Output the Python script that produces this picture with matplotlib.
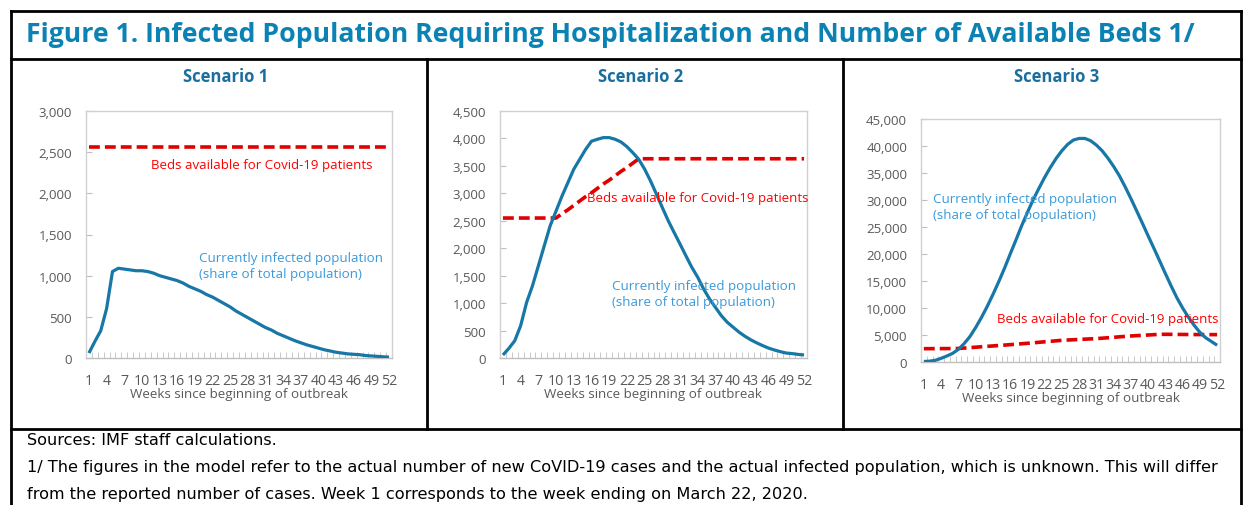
import matplotlib
matplotlib.use("Agg")
import matplotlib.pyplot as plt
from matplotlib.lines import Line2D

W, H = 1244, 506

weeks = list(range(1, 53))
tick_weeks = list(range(1, 53, 3))

# Scenario 1
s1_infected = [60, 200, 330, 600, 1050, 1090, 1080, 1070, 1060, 1060, 1050, 1030, 1000,
               980, 960, 940, 910, 870, 840, 810, 770, 740, 700, 660, 620, 570, 530, 490,
               450, 410, 370, 340, 300, 270, 240, 210, 185, 160, 140, 120, 100, 85, 70,
               60, 50, 45, 40, 30, 25, 20, 15, 10]
s1_beds = [2560] * 52

# Scenario 2
s2_infected = [55, 175, 315, 590, 1010, 1315, 1680, 2045, 2410, 2680, 2950, 3195, 3440,
               3620, 3800, 3950, 3985, 4015, 4015, 3985, 3935, 3850, 3740, 3620, 3440,
               3225, 2985, 2740, 2500, 2285, 2075, 1860, 1650, 1470, 1255, 1075, 920,
               770, 650, 560, 470, 395, 330, 275, 225, 180, 145, 115, 90, 80, 65, 55]
s2_beds = [2550, 2550, 2550, 2550, 2550, 2550, 2550, 2550, 2550, 2550, 2630, 2700, 2780,
           2860, 2940, 3010, 3090, 3170, 3240, 3320, 3400, 3470, 3550, 3630, 3630, 3630,
           3630, 3630, 3630, 3630, 3630, 3630, 3630, 3630, 3630, 3630, 3630, 3630, 3630,
           3630, 3630, 3630, 3630, 3630, 3630, 3630, 3630, 3630, 3630, 3630, 3630, 3630]

# Scenario 3
s3_infected = [100, 150, 320, 680, 1110, 1600, 2350, 3400, 4700, 6370, 8220, 10260, 12480,
               14830, 17300, 19960, 22560, 25220, 27690, 30040, 32140, 34180, 36030,
               37700, 39120, 40300, 41100, 41400, 41400, 40980, 40170, 39120, 37760,
               36220, 34490, 32450, 30280, 28000, 25710, 23360, 21070, 18730, 16380,
               14090, 11900, 10000, 8300, 6800, 5500, 4500, 3800, 3100]
s3_beds = [2470, 2470, 2480, 2480, 2490, 2490, 2500, 2580, 2660, 2740, 2820, 2900, 2970,
           3050, 3130, 3210, 3290, 3380, 3460, 3550, 3650, 3740, 3830, 3920, 4020, 4070,
           4120, 4180, 4230, 4280, 4330, 4410, 4490, 4570, 4660, 4740, 4820, 4880, 4940,
           5000, 5060, 5120, 5130, 5120, 5110, 5100, 5090, 5080, 5080, 5070, 5070, 5070]

titles = ["Scenario 1", "Scenario 2", "Scenario 3"]
y_max = [3000, 4500, 45000]
y_step = [500, 500, 5000]

fig = plt.figure(figsize=(W / 100, H / 100), dpi=100)
plt.rcParams["font.family"] = ["Open Sans", "DejaVu Sans"]

def fx(x):
    return x / W

def fy(y):
    return 1 - y / H

# frame lines
def hline(y, x0, x1, lw=2):
    fig.add_artist(Line2D([fx(x0), fx(x1)], [fy(y), fy(y)], color="black", lw=lw,
                          transform=fig.transFigure))

def vline(x, y0, y1, lw=2):
    fig.add_artist(Line2D([fx(x), fx(x)], [fy(y0), fy(y1)], color="black", lw=lw,
                          transform=fig.transFigure))

hline(12, 11, 1241)
hline(60, 11, 1241)
hline(430, 11, 1241)
vline(11, 12, 506)
vline(1241, 12, 506)
vline(427, 60, 430)
vline(843, 60, 430)

fig.text(fx(26), fy(35), "Figure 1. Infected Population Requiring Hospitalization and Number of Available Beds 1/",
         color="#0a82b4", fontsize=19.2, fontweight="bold", va="center", ha="left")

boxes = [(86, 392, 112, 359), (500, 807, 112, 359), (921, 1220, 120, 363)]
title_x = [226, 641, 1057]
infected = [s1_infected, s2_infected, s3_infected]
beds = [s1_beds, s2_beds, s3_beds]

beds_txt = [(151, 166), (587, 199), (997, 320)]
inf_txt = [(199, 267), (612, 295), (933, 208)]

for i in range(3):
    l, r, t, b = boxes[i]
    ax = fig.add_axes([fx(l), fy(b), (r - l) / W, (b - t) / H])
    x = list(range(len(weeks)))
    ax.plot(x, beds[i], color="#e00000", lw=2.6, dashes=(3, 1.4), zorder=2)
    ax.plot(x, infected[i], color="#1777a6", lw=2.3, zorder=3, solid_capstyle="butt")
    ax.set_xlim(-0.5, len(weeks) - 0.5)
    ax.set_ylim(0, y_max[i])
    ax.set_yticks(range(0, y_max[i] + 1, y_step[i]))
    ax.set_yticklabels([f"{v:,}" for v in range(0, y_max[i] + 1, y_step[i])])
    ax.set_xticks([weeks.index(w) for w in tick_weeks])
    ax.set_xticklabels([str(w) for w in tick_weeks])
    ax.set_xticks([k - 0.5 for k in range(len(weeks) + 1)], minor=True)
    ax.tick_params(axis="x", which="major", length=0, pad=11, labelsize=10.2, labelcolor="#595959")
    ax.tick_params(axis="x", which="minor", direction="in", length=4, color="#bfbfbf")
    ax.tick_params(axis="y", direction="in", length=4, color="#bfbfbf", labelsize=9.5,
                   labelcolor="#595959", pad=10)
    for sp in ax.spines.values():
        sp.set_color("#d0d0d0")
        sp.set_linewidth(1)
    ax.spines["bottom"].set_color("#bfbfbf")
    ax.set_xlabel("Weeks since beginning of outbreak", fontsize=9.6, color="#595959", labelpad=-1)
    fig.text(fx(title_x[i]), fy(77), titles[i], fontsize=12, fontweight="bold",
             color="#1a6e9e", ha="center", va="center")
    bx, by = beds_txt[i]
    fig.text(fx(bx), fy(by), "Beds available for Covid-19 patients", fontsize=9.5,
             color="#ff0000", ha="left", va="center")
    ix, iy = inf_txt[i]
    fig.text(fx(ix), fy(iy), "Currently infected population\n(share of total population)",
             fontsize=9.6, color="#3a9ad9", ha="left", va="center", linespacing=1.3)

footer = ["Sources: IMF staff calculations.",
          "1/ The figures in the model refer to the actual number of new CoVID-19 cases and the actual infected population, which is unknown. This will differ",
          "from the reported number of cases. Week 1 corresponds to the week ending on March 22, 2020."]
for j, line in enumerate(footer):
    fig.text(fx(27), fy(441 + 27 * j), line, fontsize=11.6, color="black", ha="left", va="center",
             family=["DejaVu Sans"])

fig.savefig("out.png", dpi=100)
